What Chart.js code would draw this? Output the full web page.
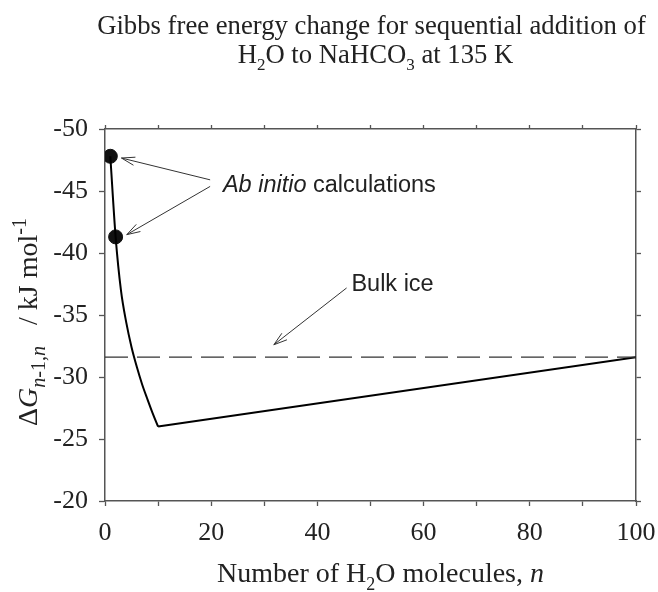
<!DOCTYPE html>
<html>
<head>
<meta charset="utf-8">
<script src="https://cdn.jsdelivr.net/npm/chart.js@4"></script>
<style>
  body { margin: 0; background: #fff; }
  canvas { display: block; }
</style>
</head>
<body>
<canvas id="gibbs" width="658" height="592"></canvas>
<script>
// sequential addition of H2O, dG(n-1,n) in kJ/mol
const curveN = [1, 2, 3, 4, 5, 6, 7, 8, 9, 10];
const curveDG = [-47.8, -41.3, -37.0, -34.4, -32.4, -30.8, -29.4, -28.2, -27.05, -26.0];

// straight part up to n = 100
const tailN = [10, 100];
const tailDG = [-26.0, -31.6];

// ab initio points
const abInitioN = [1, 2];
const abInitioDG = [-47.8, -41.3];

// bulk ice reference
const bulkIceN = [0, 100];
const bulkIceDG = [-31.6, -31.6];

const SERIF = '"Liberation Serif", "Times New Roman", serif';
const SANS = '"Liberation Sans", Arial, sans-serif';
const INK = '#222';
const AXIS = '#555';

function pts(xs, ys) {
  return xs.map((x, i) => ({ x: x, y: ys[i] }));
}

// draw a line of text made of pieces (italic / sub / sup)
function drawRich(ctx, segs, x, y, size, family, align, subScale) {
  const ss = subScale || 0.65;
  const fontOf = s => (s.italic ? 'italic ' : '') + ((s.sub || s.sup) ? Math.round(size * ss) : size) + 'px ' + family;
  let w = 0;
  segs.forEach(s => { ctx.font = fontOf(s); w += ctx.measureText(s.t).width; });
  let cx = align === 'center' ? x - w / 2 : x;
  ctx.textAlign = 'left';
  ctx.textBaseline = 'alphabetic';
  segs.forEach(s => {
    ctx.font = fontOf(s);
    let dy = 0;
    if (s.sub) dy = size * 0.28;
    if (s.sup) dy = -size * 0.38;
    ctx.fillText(s.t, cx, y + dy);
    cx += ctx.measureText(s.t).width;
  });
}

function arrow(ctx, x1, y1, x2, y2) {
  const a = Math.atan2(y2 - y1, x2 - x1);
  const L = 14, spread = 0.3;
  ctx.beginPath();
  ctx.moveTo(x1, y1);
  ctx.lineTo(x2, y2);
  ctx.moveTo(x2 - L * Math.cos(a - spread), y2 - L * Math.sin(a - spread));
  ctx.lineTo(x2, y2);
  ctx.lineTo(x2 - L * Math.cos(a + spread), y2 - L * Math.sin(a + spread));
  ctx.stroke();
}

// labels placed in data units
const notes = {
  abText: { x: 22.2, y: -44.95 },
  abArrows: [
    { from: { x: 19.8, y: -45.9 }, to: { x: 3.1, y: -47.66 } },
    { from: { x: 19.8, y: -45.37 }, to: { x: 4.1, y: -41.48 } }
  ],
  iceText: { x: 46.4, y: -36.9 },
  iceArrow: { from: { x: 45.5, y: -37.18 }, to: { x: 31.8, y: -32.6 } }
};

const textPlugin = {
  id: 'textPlugin',
  afterDraw(chart) {
    const ctx = chart.ctx;
    const xs = chart.scales.x, ys = chart.scales.y;
    const px = p => [xs.getPixelForValue(p.x), ys.getPixelForValue(p.y)];
    const area = chart.chartArea;
    const mid = (area.left + area.right) / 2;
    ctx.save();
    ctx.fillStyle = INK;

    // title
    drawRich(ctx, [{ t: 'Gibbs free energy change for sequential addition of' }], mid + 1, 34, 26.7, SERIF, 'center');
    drawRich(ctx, [
      { t: 'H' }, { t: '2', sub: true }, { t: 'O to NaHCO' }, { t: '3', sub: true }, { t: ' at 135 K' }
    ], mid + 5, 63, 26.7, SERIF, 'center');

    // x title
    drawRich(ctx, [
      { t: 'Number of H' }, { t: '2', sub: true }, { t: 'O molecules, ' }, { t: 'n', italic: true }
    ], mid + 10, 582, 28, SERIF, 'center');

    // y title
    ctx.save();
    ctx.translate(37, 322);
    ctx.rotate(-Math.PI / 2);
    drawRich(ctx, [
      { t: '\u0394' }, { t: 'G', italic: true }, { t: 'n', sub: true, italic: true }, { t: '-1,', sub: true },
      { t: 'n', sub: true, italic: true }, { t: '   / kJ mol' }, { t: '-1', sup: true }
    ], 0, 0, 28, SERIF, 'center', 0.72);
    ctx.restore();

    // annotations
    ctx.strokeStyle = '#333';
    ctx.lineWidth = 1;
    let p = px(notes.abText);
    drawRich(ctx, [{ t: 'Ab initio', italic: true }, { t: ' calculations' }], p[0], p[1], 23.5, SANS, 'left');
    notes.abArrows.forEach(a => {
      const f = px(a.from), t = px(a.to);
      arrow(ctx, f[0], f[1], t[0], t[1]);
    });
    p = px(notes.iceText);
    drawRich(ctx, [{ t: 'Bulk ice' }], p[0], p[1], 23.5, SANS, 'left');
    const f = px(notes.iceArrow.from), t = px(notes.iceArrow.to);
    arrow(ctx, f[0], f[1], t[0], t[1]);
    ctx.restore();
  }
};

// force axis boxes so the plot area matches the figure
const fixSize = (prop, val) => function (scale) {
  scale[prop] = val;
  scale.paddingLeft = 0;
  scale.paddingRight = 0;
  scale.paddingTop = 0;
  scale.paddingBottom = 0;
};

const gibbs = document.getElementById('gibbs');
new Chart(gibbs, {
  type: 'line',
  data: {
    datasets: [
      {
        label: 'Bulk ice',
        data: pts(bulkIceN, bulkIceDG),
        borderColor: '#333',
        borderWidth: 1.3,
        borderDash: [23, 9],
        pointRadius: 0,
        tension: 0
      },
      {
        label: 'dG',
        data: pts(curveN, curveDG),
        borderColor: '#000',
        borderWidth: 2,
        pointRadius: 0,
        cubicInterpolationMode: 'monotone'
      },
      {
        label: 'dG tail',
        data: pts(tailN, tailDG),
        borderColor: '#000',
        borderWidth: 2,
        pointRadius: 0,
        tension: 0
      },
      {
        label: 'Ab initio',
        data: pts(abInitioN, abInitioDG),
        showLine: false,
        pointRadius: 7,
        pointBackgroundColor: '#111',
        pointBorderColor: '#111'
      }
    ]
  },
  options: {
    responsive: false,
    animation: false,
    layout: { padding: 0 },
    plugins: {
      legend: { display: false },
      tooltip: { enabled: false },
      title: { display: false }
    },
    scales: {
      x: {
        type: 'linear',
        position: 'bottom',
        min: 0,
        max: 100,
        afterFit: fixSize('height', 91),
        grid: { drawOnChartArea: false, tickLength: 5, color: AXIS, tickWidth: 1.3 },
        border: { color: AXIS, width: 1.5 },
        ticks: {
          stepSize: 10,
          autoSkip: false,
          maxRotation: 0,
          padding: 12,
          color: INK,
          font: { family: SERIF, size: 26 },
          callback: v => (v % 20 === 0 ? v : '')
        }
      },
      x2: {
        type: 'linear',
        position: 'top',
        min: 0,
        max: 100,
        afterFit: fixSize('height', 129),
        grid: { drawOnChartArea: false, tickLength: 4, color: AXIS, tickWidth: 1.3 },
        border: { color: AXIS, width: 1.5 },
        ticks: { stepSize: 10, autoSkip: false, callback: () => '' }
      },
      y: {
        type: 'linear',
        position: 'left',
        min: -50,
        max: -20,
        reverse: true,
        afterFit: fixSize('width', 105),
        grid: { drawOnChartArea: false, tickLength: 6, color: AXIS, tickWidth: 1.3 },
        border: { color: AXIS, width: 1.5 },
        ticks: {
          stepSize: 5,
          padding: 11,
          color: INK,
          font: { family: SERIF, size: 26 }
        }
      },
      y2: {
        type: 'linear',
        position: 'right',
        min: -50,
        max: -20,
        reverse: true,
        afterFit: fixSize('width', 22),
        grid: { drawOnChartArea: false, tickLength: 5, color: AXIS, tickWidth: 1.3 },
        border: { color: AXIS, width: 1.5 },
        ticks: { stepSize: 5, callback: () => '' }
      }
    }
  },
  plugins: [textPlugin]
});
</script>
</body>
</html>
